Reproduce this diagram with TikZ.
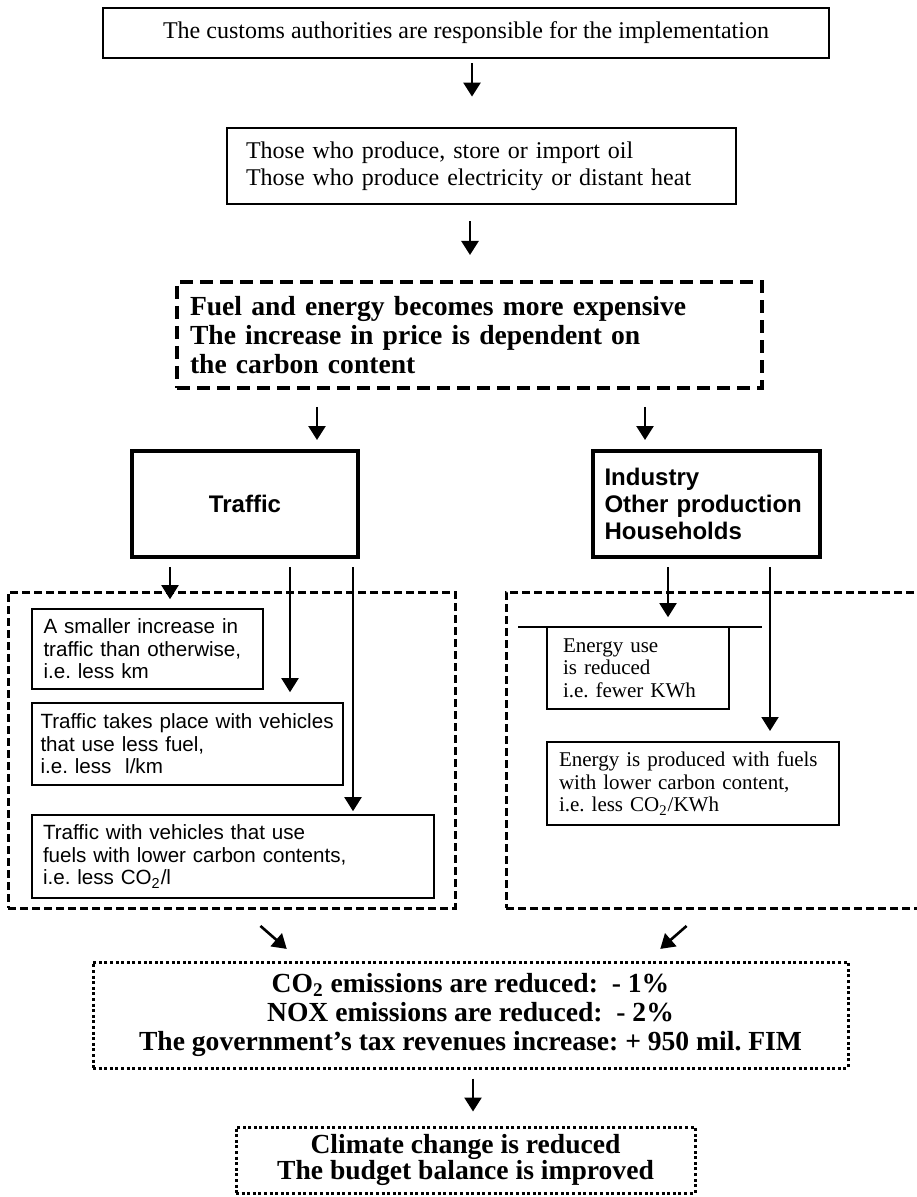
\documentclass[tikz,border=0pt]{standalone}
\usepackage{fontspec}
\setmainfont{Liberation Serif}
\setsansfont{Liberation Sans}
\usepackage{tikz}
\usetikzlibrary{arrows.meta,positioning}
\frenchspacing

\begin{document}
\begin{tikzpicture}[x=0.5pt, y=-0.5pt, >={Triangle[width=8.5pt,length=7pt]},
  bx/.style={draw, inner sep=0pt, align=left},
  arr/.style={->, line width=1.3pt},
  dsh/.style={draw, line width=1.5pt, dash pattern=on 4pt off 2pt},
  dts/.style={draw, line width=1.5pt, dash pattern=on 1.5pt off 1.3pt},
  rm/.style={font=\fontsize{12pt}{13.5pt}\selectfont},
  big/.style={font=\bfseries\fontsize{13.8pt}{14.5pt}\selectfont},
  sf/.style={font=\sffamily\fontsize{10.3pt}{11.3pt}\selectfont},
  sfb/.style={font=\sffamily\bfseries\fontsize{12pt}{13.5pt}\selectfont},
  sm/.style={font=\fontsize{10.5pt}{11.3pt}\selectfont}]
\useasboundingbox (0,0) rectangle (916,1197);
\node[bx, rm, line width=1.4pt, minimum width=363pt, minimum height=25pt] (cust) at (466,33) {The customs authorities are responsible for the implementation};
\node[bx, rm, line width=1.4pt, minimum width=254.5pt, minimum height=38pt, text width=235.5pt] (prod) at (481.5,166) {Those who produce, store or import oil\\Those who produce electricity or distant heat};
\node[bx, big, line width=2pt, dash pattern=on 6.5pt off 3.5pt, minimum width=292.5pt, minimum height=53pt, text width=279.5pt] (price) at (469.5,335) {Fuel and energy becomes more expensive\\The increase in price is dependent on\\the carbon content};
\node[bx, sfb, line width=2pt, minimum width=113pt, minimum height=53pt] (traf) at (245,504) {Traffic};
\node[bx, sfb, line width=2pt, minimum width=113.5pt, minimum height=53pt, text width=102pt] (ind) at (706.5,504) {Industry\\Other production\\Households};
\node[dsh, minimum width=223.5pt, minimum height=158pt] (tbox) at (231.5,750) {};
\node[dsh, minimum width=230pt, minimum height=158pt] (ebox) at (736,750) {};
\node[bx, sf, line width=0.8pt, minimum width=115.5pt, minimum height=40pt, text width=104pt] (tA) at (147.5,649) {A smaller increase in\\traffic than otherwise,\\i.e. less km};
\node[bx, sf, line width=0.8pt, minimum width=155.5pt, minimum height=41pt, text width=147pt] (tB) at (187.5,744) {Traffic takes place with vehicles\\that use less fuel,\\i.e. less~ l/km};
\node[bx, sf, line width=0.8pt, minimum width=201pt, minimum height=41.5pt, text width=190pt] (tC) at (233,856.5) {Traffic with vehicles that use\\fuels with lower carbon contents,\\i.e. less CO\textsubscript{2}/l};
\node[bx, sm, line width=0.8pt, minimum width=91pt, minimum height=41pt, text width=75pt] (eD) at (638,668) {Energy use\\is reduced\\i.e. fewer KWh};
\draw[line width=0.8pt] (518,627) -- (762,627);
\node[bx, sm, line width=1pt, minimum width=146pt, minimum height=41.5pt, text width=134pt] (eE) at (693,783.5) {Energy is produced with fuels\\with lower carbon content,\\i.e. less CO\textsubscript{2}/KWh};
\node[dts, align=center, inner sep=0pt, font=\bfseries\fontsize{13.8pt}{14.5pt}\selectfont, minimum width=377.5pt, minimum height=53pt] (res) at (470.5,1015) {CO\textsubscript{2} emissions are reduced:~ - 1\%\\NOX emissions are reduced:~ - 2\%\\The government's tax revenues increase: + 950 mil. FIM};
\node[dts, align=center, inner sep=0pt, font=\bfseries\fontsize{13.8pt}{13pt}\selectfont, minimum width=229.5pt, minimum height=33pt] (clim) at (465.5,1160) {Climate change is reduced\\The budget balance is improved};
\draw[arr, shorten <=2pt, shorten >=15pt] (cust.south -| 472,0) -- (prod.north -| 472,0);
\draw[arr, shorten <=8pt, shorten >=12.5pt] (prod.south -| 470,0) -- (price.north -| 470,0);
\draw[arr, shorten <=8.5pt, shorten >=4.5pt] (price.south -| 317,0) -- (traf.north -| 317,0);
\draw[arr, shorten <=8.5pt, shorten >=4.5pt] (price.south -| 645,0) -- (ind.north -| 645,0);
\draw[arr, line width=1pt, shorten <=4pt, shorten >=4.5pt] (traf.south -| 170,0) -- (tA.north -| 170,0);
\draw[arr, line width=1pt, shorten <=4pt, shorten >=5pt] (traf.south -| 290,0) -- (tB.north -| 290,0);
\draw[arr, line width=1pt, shorten <=4pt, shorten >=1.5pt] (traf.south -| 353,0) -- (tC.north -| 353,0);
\draw[arr, line width=1pt, shorten <=4pt, shorten >=4.5pt] (ind.south -| 668,0) -- (eD.north -| 668,0);
\draw[arr, line width=1pt, shorten <=4pt, shorten >=5pt] (ind.south -| 770,0) -- (eE.north -| 770,0);
\draw[arr, shorten <=12.5pt, shorten >=8.8pt] (tbox.south -| 241.6,0) -- (res.north -| 300,0);
\draw[arr, shorten <=12.5pt, shorten >=8.8pt] (ebox.south -| 705.4,0) -- (res.north -| 647,0);
\draw[arr, shorten <=4.5pt, shorten >=7pt] (res.south -| 473,0) -- (clim.north -| 473,0);
\end{tikzpicture}
\end{document}
